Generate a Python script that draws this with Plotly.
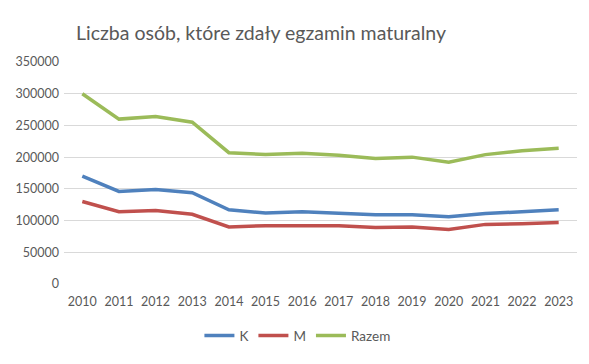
import plotly.graph_objects as go

years = [str(y) for y in range(2010, 2024)]
k_vals = [170000, 146000, 149000, 144000, 117000, 112000, 114000, 111000, 109000, 109000, 106000, 111000, 114000, 117000]
m_vals = [130000, 114000, 116000, 110000, 90000, 92000, 92000, 92000, 89000, 90000, 86000, 94000, 95000, 97000]
razem_vals = [300000, 260000, 264000, 255000, 207000, 204000, 206000, 203000, 198000, 200000, 192000, 204000, 210000, 214000]
y_ticks = [0, 50000, 100000, 150000, 200000, 250000, 300000, 350000]

series = [("K", k_vals, "#4F81BD"), ("M", m_vals, "#C0504D"), ("Razem", razem_vals, "#9BBB59")]

fig = go.Figure()
for name, vals, col in series:
    fig.add_trace(go.Scatter(x=years, y=vals, name=name, mode="lines",
                             line=dict(color=col, width=3.5)))

fig.update_layout(
    width=589, height=364,
    paper_bgcolor="white", plot_bgcolor="white",
    margin=dict(l=64, r=12, t=62, b=80, autoexpand=False),
    font=dict(family="Lato, Liberation Sans, sans-serif", size=12.5, color="#595959"),
    title=dict(text="Liczba osób, które zdały egzamin maturalny", x=261 / 589, xanchor="center",
               y=1 - 33 / 364, yanchor="middle", yref="container", automargin=False,
               font=dict(size=19.5, color="#595959")),
    showlegend=True,
    legend=dict(orientation="h", x=0.455, xanchor="center", y=-0.233, yanchor="middle",
                font=dict(size=13.5, color="#595959"), tracegroupgap=0),
)
fig.update_xaxes(type="category", showgrid=False, showline=False, ticks="", automargin=False,
                 range=[-0.5, 13.5], tickfont=dict(size=12.5), ticklabelstandoff=8)
fig.update_yaxes(range=[0, 350000], tickvals=y_ticks, ticktext=[str(v) for v in y_ticks],
                 showgrid=True, gridcolor="#d9d9d9", gridwidth=1, zeroline=False, automargin=False,
                 showline=False, ticks="", tickfont=dict(size=12.5), ticklabelstandoff=4)

fig.write_html("out.html", config={"displayModeBar": False},
               post_script="document.body.style.margin='0';")
